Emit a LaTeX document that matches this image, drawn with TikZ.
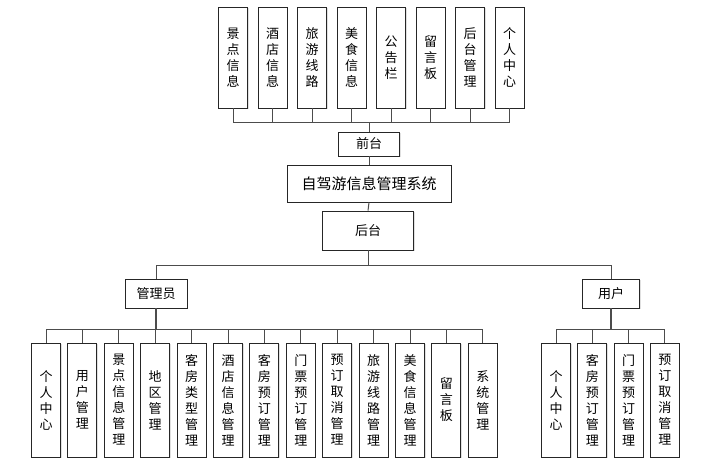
\documentclass[tikz,border=0pt]{standalone}
\usepackage{fontspec}
\newfontfamily\cjk{Noto Sans CJK SC}
\usepackage{tikz}
\usetikzlibrary{positioning,shadows}

\tikzset{
	box/.style={draw=black!85, line width=0.9pt, fill=white, inner sep=0pt, align=center,
		font=\cjk\fontsize{13}{16}\selectfont,
		drop shadow={shadow xshift=1pt, shadow yshift=-1pt, fill=black!20, opacity=0.6}},
	vbox/.style={box, minimum width=29pt, minimum height=#1},
	link/.style={draw=black!70, line width=1pt},
}

\begin{document}
\begin{tikzpicture}[x=1pt,y=-1pt]
	\useasboundingbox (0,0) rectangle (721,471);
	\node[box, minimum width=61pt, minimum height=24pt] (qt) at (369,144) {前台};
	\node[box, minimum width=164pt, minimum height=37pt, font=\cjk\fontsize{15}{18}\selectfont] (sys) at (369,183.5) {自驾游信息管理系统};
	\node[box, minimum width=91pt, minimum height=39pt] (ht) at (368,230.5) {后台};
	\node[box, minimum width=62pt, minimum height=29pt] (gly) at (156,293.5) {管理员};
	\node[box, minimum width=57pt, minimum height=29pt] (yh) at (611,293.5) {用户};

	% front modules
	\foreach \lbl [count=\i] in {{景\\点\\信\\息}, {酒\\店\\信\\息}, {旅\\游\\线\\路}, {美\\食\\信\\息},
			{公\\告\\栏}, {留\\言\\板}, {后\\台\\管\\理}, {个\\人\\中\\心}}
		\node[vbox=101pt] (t\i) at (193.5+39.5*\i, 57.5) {\lbl};

	% admin modules
	\foreach \lbl [count=\i] in {{个\\人\\中\\心}, {用\\户\\管\\理}, {景\\点\\信\\息\\管\\理}, {地\\区\\管\\理},
			{客\\房\\类\\型\\管\\理}, {酒\\店\\信\\息\\管\\理}, {客\\房\\预\\订\\管\\理}, {门\\票\\预\\订\\管\\理},
			{预\\订\\取\\消\\管\\理}, {旅\\游\\线\\路\\管\\理}, {美\\食\\信\\息\\管\\理}, {留\\言\\板}, {系\\统\\管\\理}}
		\node[vbox=114pt] (g\i) at (9.6+36.4*\i, 400) {\lbl};

	% user modules
	\foreach \lbl [count=\i] in {{个\\人\\中\\心}, {客\\房\\预\\订\\管\\理}, {门\\票\\预\\订\\管\\理}, {预\\订\\取\\消\\管\\理}}
		\node[vbox=114pt] (u\i) at (519.7+36.3*\i, 400) {\lbl};

	\coordinate (qbus) at (369,122);
	\foreach \i in {1,...,8}
		\draw[link] (t\i.south) |- (qbus);
	\draw[link] (qbus) -- (qt.north);
	\draw[link] (qt.south) -- (sys.north);
	\draw[link] (sys.south) -- (ht.north);

	\coordinate (hbus) at (368,265);
	\draw[link] (ht.south) -- (hbus);
	\draw[link] (gly.north) |- (hbus);
	\draw[link] (yh.north) |- (hbus);

	\coordinate (gbus) at (156,329);
	\draw[link, line width=1.6pt] (gly.south) -- (gbus);
	\foreach \i in {1,...,13}
		\draw[link] (g\i.north) |- (gbus);

	\coordinate (ybus) at (611,329);
	\draw[link, line width=1.6pt] (yh.south) -- (ybus);
	\foreach \i in {1,...,4}
		\draw[link] (u\i.north) |- (ybus);
\end{tikzpicture}
\end{document}
